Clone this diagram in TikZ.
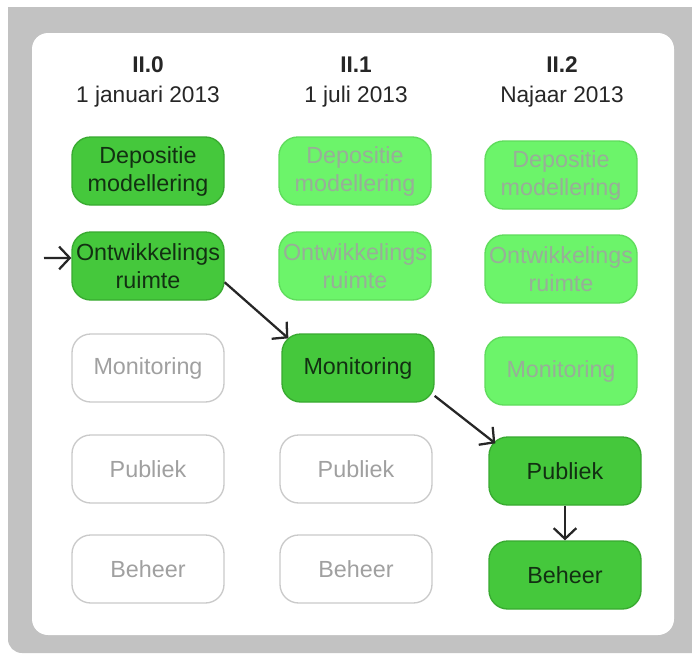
\documentclass[tikz,border=0pt]{standalone}
\usepackage{fontspec}
\setmainfont{Liberation Sans}
\usetikzlibrary{calc,positioning,arrows.meta}

\definecolor{framegray}{HTML}{C2C2C2}
\definecolor{activefill}{HTML}{45C83C}
\definecolor{activeline}{HTML}{38AA30}
\definecolor{activetext}{HTML}{123012}
\definecolor{plannedfill}{HTML}{6CF46A}
\definecolor{plannedline}{HTML}{5FDC5C}
\definecolor{plannedtext}{HTML}{98AE98}
\definecolor{idleline}{HTML}{CACACA}
\definecolor{idletext}{HTML}{A0A0A0}

\tikzset{
	box/.style={rounded corners=14pt, minimum width=114pt, minimum height=51pt,
		inner sep=0pt, align=center, line width=1pt,
		font=\fontsize{17.5}{21}\selectfont},
	active/.style={box, fill=activefill, draw=activeline, text=activetext},
	planned/.style={box, fill=plannedfill, draw=plannedline, text=plannedtext},
	idle/.style={box, fill=white, draw=idleline, text=idletext},
	phase/.style={align=center, text=black!85, font=\fontsize{17}{22}\selectfont},
	flow/.style={draw=black!85, line width=1.7pt,
		-{Straight Barb[length=8pt, width=17pt, line width=1.7pt]}},
}

\begin{document}
\begin{tikzpicture}[x=0.75pt, y=-0.75pt]

	% canvas
	\useasboundingbox (0,0) rectangle (692,653);
	\fill[white] (0,0) rectangle (692,653);

	% frame
	\fill[framegray] (8,7) -- (692,7) -- (692,653) -- (22,653)
		to[out=180, in=-90] (8,639) -- cycle;
	\fill[white, rounded corners=12pt] (32,33) rectangle (674,635);

	% phases
	\node[phase] (ph0) at (148,82) {\textbf{II.0}\\1 januari 2013};
	\node[phase] (ph1) at (356,82) {\textbf{II.1}\\1 juli 2013};
	\node[phase] (ph2) at (562,82) {\textbf{II.2}\\Najaar 2013};

	% column II.0
	\node[active]  (dep0) at (148,171) {Depositie\\modellering};
	\node[active]  (ont0) at (148,266) {Ontwikkelings\\ruimte};
	\node[idle]    (mon0) at (148,368) {Monitoring};
	\node[idle]    (pub0) at (148,469) {Publiek};
	\node[idle]    (beh0) at (148,569) {Beheer};

	% column II.1
	\node[planned] (dep1) at (355,171) {Depositie\\modellering};
	\node[planned] (ont1) at (355,266) {Ontwikkelings\\ruimte};
	\node[active]  (mon1) at (358,368) {Monitoring};
	\node[idle]    (pub1) at (356,469) {Publiek};
	\node[idle]    (beh1) at (356,569) {Beheer};

	% column II.2
	\node[planned] (dep2) at (561,175) {Depositie\\modellering};
	\node[planned] (ont2) at (561,269) {Ontwikkelings\\ruimte};
	\node[planned] (mon2) at (561,371) {Monitoring};
	\node[active]  (pub2) at (565,471) {Publiek};
	\node[active]  (beh2) at (565,575) {Beheer};

	% arrows
	\coordinate (entry) at (44,258);
	\draw[flow] (entry) -- (ont0.174);
	\draw[flow] (ont0.-12) -- ($(mon1.north west)+(7,5)$);
	\draw[flow] (mon1.-20) -- ($(pub2.north west)+(7,7)$);
	\draw[flow] (pub2.south) -- (beh2.north);

\end{tikzpicture}
\end{document}
